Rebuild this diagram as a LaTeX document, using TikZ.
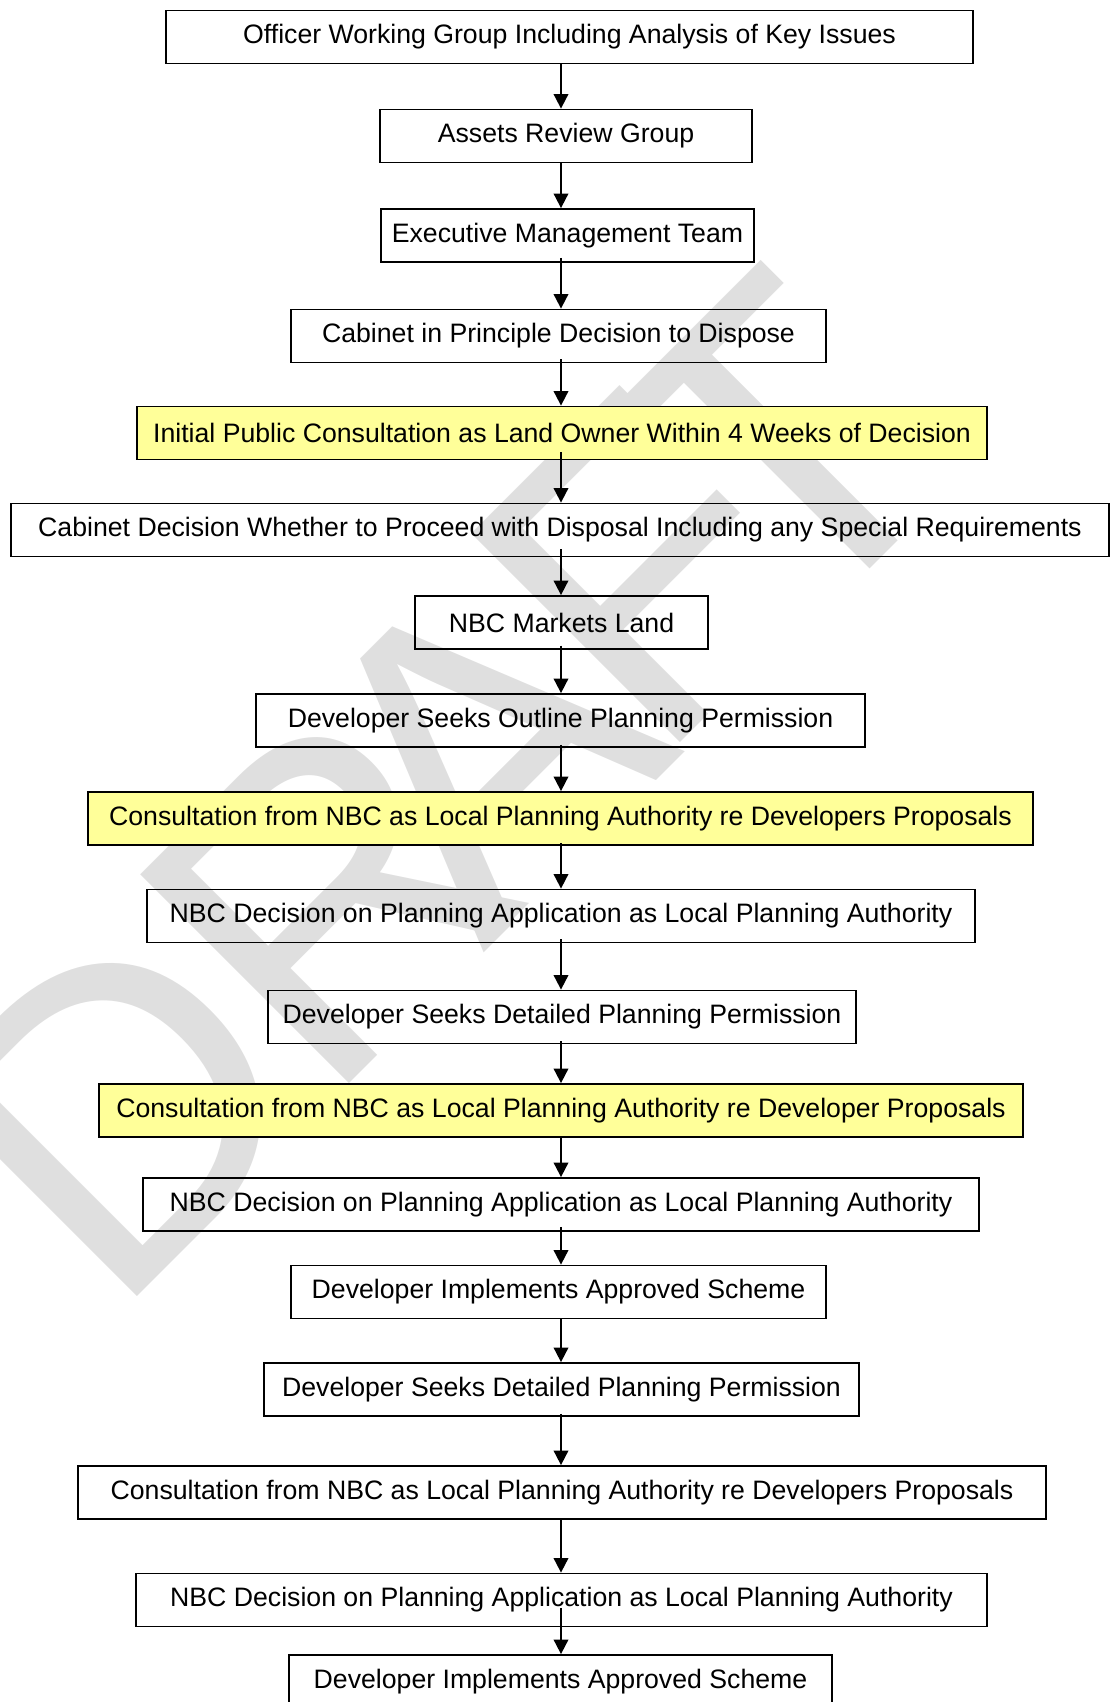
\documentclass[tikz,border=0pt]{standalone}
\usepackage{fontspec}
\setmainfont{Liberation Sans}
\usetikzlibrary{arrows.meta}
\definecolor{hlyellow}{RGB}{255,255,153}
\definecolor{wmgray}{RGB}{223,223,223}

\begin{document}
\begin{tikzpicture}[x=0.48pt, y=-0.48pt,
  stage/.style={draw, line width=0.9pt, font=\fontsize{12.8}{15}\selectfont,
    minimum height=25.4pt, inner sep=0pt, align=center},
  consult/.style={stage, fill=hlyellow},
  wmletter/.style={text=wmgray, font=\fontsize{206}{206}\selectfont,
    inner sep=0pt, rotate=45},
  arr/.style={-{Triangle[length=7pt,width=7pt]}, line width=0.9pt}]
\clip (0,0) rectangle (1110,1702);
% Watermark, one letter at a time
\foreach \ch/\px/\py in {D/118/1108, R/330/895, A/480/748, F/644/570, T/780/450}
  \node[wmletter] (wm\ch) at (\px,\py) {\ch};
% Line the arrows run down
\coordinate (spine) at (561,0);
% Officer group
\node[stage, minimum width=387.4pt] (ogroup) at (569.5,37)
  {Officer Working Group Including Analysis of Key Issues};
% Assets Review Group
\node[stage, minimum width=178.6pt] (assets) at (566,136) {Assets Review Group};
\draw[arr] (ogroup.south -| spine) -- (assets.north -| spine);
% EMT
\node[stage, minimum width=179pt] (emt) at (567.5,235.5) {Executive Management Team};
\draw[arr] (assets.south -| spine) -- (emt.north -| spine);
% Cabinet in principle
\node[stage, minimum width=256.8pt] (cabprin) at (558.5,336)
  {Cabinet in Principle Decision to Dispose};
\draw[arr] ([yshift=2.4pt]emt.south -| spine) -- (cabprin.north -| spine);
% Public consultation
\node[consult, minimum width=408pt] (landcons) at (562,433)
  {Initial Public Consultation as Land Owner Within 4 Weeks of Decision};
\draw[arr] ([yshift=2pt]cabprin.south -| spine) -- (landcons.north -| spine);
% Cabinet decision
\node[stage, minimum width=527pt] (cabdec) at (560,530)
  {Cabinet Decision Whether to Proceed with Disposal Including any Special Requirements};
\draw[arr] ([yshift=3.8pt]landcons.south -| spine) -- (cabdec.north -| spine);
% Marketing
\node[stage, minimum width=140.6pt] (market) at (561.5,622.5) {NBC Markets Land};
\draw[arr] ([yshift=3.8pt]cabdec.south -| spine) -- (market.north -| spine);
% Outline permission
\node[stage, minimum width=292.3pt] (outline) at (560.5,720.5)
  {Developer Seeks Outline Planning Permission};
\draw[arr] ([yshift=2pt]market.south -| spine) -- (outline.north -| spine);
% LPA consultation 1
\node[consult, minimum width=453.6pt] (lpacons1) at (560.5,818.5)
  {Consultation from NBC as Local Planning Authority re Developers Proposals};
\draw[arr] ([yshift=1.5pt]outline.south -| spine) -- (lpacons1.north -| spine);
% LPA decision 1
\node[stage, minimum width=397.4pt] (lpadec1) at (561,916)
  {NBC Decision on Planning Application as Local Planning Authority};
\draw[arr] ([yshift=1.5pt]lpacons1.south -| spine) -- (lpadec1.north -| spine);
% Detailed permission 1
\node[stage, minimum width=282.2pt] (detail1) at (562,1017)
  {Developer Seeks Detailed Planning Permission};
\draw[arr] ([yshift=2pt]lpadec1.south -| spine) -- (detail1.north -| spine);
% LPA consultation 2
\node[consult, minimum width=443.5pt] (lpacons2) at (561,1110.5)
  {Consultation from NBC as Local Planning Authority re Developer Proposals};
\draw[arr] ([yshift=1.5pt]detail1.south -| spine) -- (lpacons2.north -| spine);
% LPA decision 2
\node[stage, minimum width=401.3pt] (lpadec2) at (561,1204.5)
  {NBC Decision on Planning Application as Local Planning Authority};
\draw[arr] ([yshift=0.5pt]lpacons2.south -| spine) -- (lpadec2.north -| spine);
% Implementation 1
\node[stage, minimum width=256.8pt] (implement1) at (558.5,1292)
  {Developer Implements Approved Scheme};
\draw[arr] ([yshift=2.4pt]lpadec2.south -| spine) -- (implement1.north -| spine);
% Detailed permission 2
\node[stage, minimum width=285.6pt] (detail2) at (561.5,1389.5)
  {Developer Seeks Detailed Planning Permission};
\draw[arr] (implement1.south -| spine) -- (detail2.north -| spine);
% LPA consultation 3
\node[stage, minimum width=464.6pt] (lpacons3) at (562,1492.5)
  {Consultation from NBC as Local Planning Authority re Developers Proposals};
\draw[arr] ([yshift=1.5pt]detail2.south -| spine) -- (lpacons3.north -| spine);
% LPA decision 3
\node[stage, minimum width=408.5pt] (lpadec3) at (561.5,1600)
  {NBC Decision on Planning Application as Local Planning Authority};
\draw[arr] (lpacons3.south -| spine) -- (lpadec3.north -| spine);
% Implementation 2
\node[stage, minimum width=260.6pt] (implement2) at (560.5,1681.5)
  {Developer Implements Approved Scheme};
\draw[arr] ([yshift=9.1pt]lpadec3.south -| spine) -- (implement2.north -| spine);
\end{tikzpicture}
\end{document}
